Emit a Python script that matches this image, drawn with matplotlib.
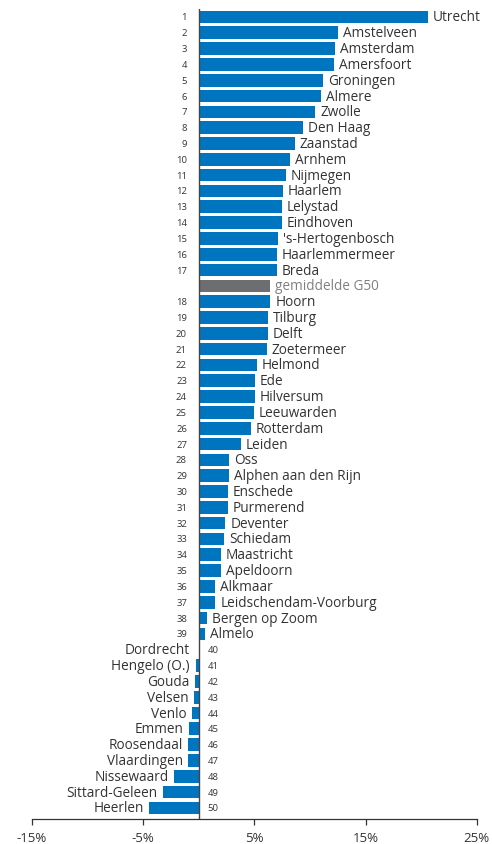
import matplotlib
matplotlib.use("Agg")
import matplotlib.pyplot as plt

cities = ["Utrecht", "Amstelveen", "Amsterdam", "Amersfoort", "Groningen", "Almere", "Zwolle",
          "Den Haag", "Zaanstad", "Arnhem", "Nijmegen", "Haarlem", "Lelystad", "Eindhoven",
          "'s-Hertogenbosch", "Haarlemmermeer", "Breda", "gemiddelde G50", "Hoorn", "Tilburg",
          "Delft", "Zoetermeer", "Helmond", "Ede", "Hilversum", "Leeuwarden", "Rotterdam",
          "Leiden", "Oss", "Alphen aan den Rijn", "Enschede", "Purmerend", "Deventer",
          "Schiedam", "Maastricht", "Apeldoorn", "Alkmaar", "Leidschendam-Voorburg",
          "Bergen op Zoom", "Almelo", "Dordrecht", "Hengelo (O.)", "Gouda", "Velsen", "Venlo",
          "Emmen", "Roosendaal", "Vlaardingen", "Nissewaard", "Sittard-Geleen", "Heerlen"]
values = [20.6, 12.5, 12.25, 12.15, 11.2, 11.0, 10.5,
          9.4, 8.65, 8.2, 7.85, 7.55, 7.48, 7.45,
          7.1, 7.0, 7.0, 6.45, 6.45, 6.2,
          6.2, 6.1, 5.2, 5.05, 5.05, 4.95, 4.7,
          3.8, 2.7, 2.7, 2.6, 2.6, 2.4,
          2.25, 2.0, 2.0, 1.5, 1.5,
          0.7, 0.55, 0.0, -0.27, -0.3, -0.45, -0.63,
          -0.9, -1.0, -1.0, -2.25, -3.25, -4.5]
ranks = ["1", "2", "3", "4", "5", "6", "7", "8", "9", "10", "11", "12", "13", "14", "15", "16",
         "17", "", "18", "19", "20", "21", "22", "23", "24", "25", "26", "27", "28", "29", "30",
         "31", "32", "33", "34", "35", "36", "37", "38", "39", "40", "41", "42", "43", "44",
         "45", "46", "47", "48", "49", "50"]
xticks = [-15, -5, 5, 15, 25]
xticklabels = ["-15%", "-5%", "5%", "15%", "25%"]
avg_label = "gemiddelde G50"

BLUE = "#0075bf"
GREY = "#6d6e71"
TXT = "#333333"
FONT = "Open Sans"

fig = plt.figure(figsize=(4.92, 8.45), dpi=100)
ax = fig.add_axes([32 / 492, 25 / 845, (476.7 - 32) / 492, 810 / 845])

ypos = list(range(len(cities)))
colors = [GREY if c == avg_label else BLUE for c in cities]
ax.barh(ypos, values, height=0.8, color=colors, zorder=2)

ax.set_xlim(-15, 25)
ax.set_ylim(50.7, -0.5)

for y, c, v, r in zip(ypos, cities, values, ranks):
    if c == avg_label:
        ax.annotate(c, (v, y), xytext=(3.6, 0), textcoords="offset points", ha="left",
                    va="center", fontsize=9.8, color="#808080", family=FONT)
    elif v > 0:
        ax.annotate(c, (v, y), xytext=(3.6, 0), textcoords="offset points", ha="left",
                    va="center", fontsize=9.8, color=TXT, family=FONT)
        ax.annotate(r, (0, y), xytext=(-8.5, 0), textcoords="offset points", ha="right",
                    va="center", fontsize=6.8, color=TXT, family=FONT)
    else:
        ax.annotate(c, (min(v, -0.4), y), xytext=(-3.6, 0), textcoords="offset points",
                    ha="right", va="center", fontsize=9.8, color=TXT, family=FONT)
        ax.annotate(r, (0, y), xytext=(6.5, 0), textcoords="offset points", ha="left",
                    va="center", fontsize=6.8, color=TXT, family=FONT)

ax.axvline(0, color="#444444", lw=1.0, zorder=3)

for s in ["top", "right", "left"]:
    ax.spines[s].set_visible(False)
ax.spines["bottom"].set_color("#333333")
ax.spines["bottom"].set_linewidth(0.9)
ax.set_yticks([])
ax.set_xticks(xticks)
ax.set_xticklabels(xticklabels, fontsize=9.5, color=TXT, family=FONT)
ax.tick_params(axis="x", direction="out", length=4, width=0.9, color="#333333", pad=4.5)

fig.savefig("out.png", dpi=100)
